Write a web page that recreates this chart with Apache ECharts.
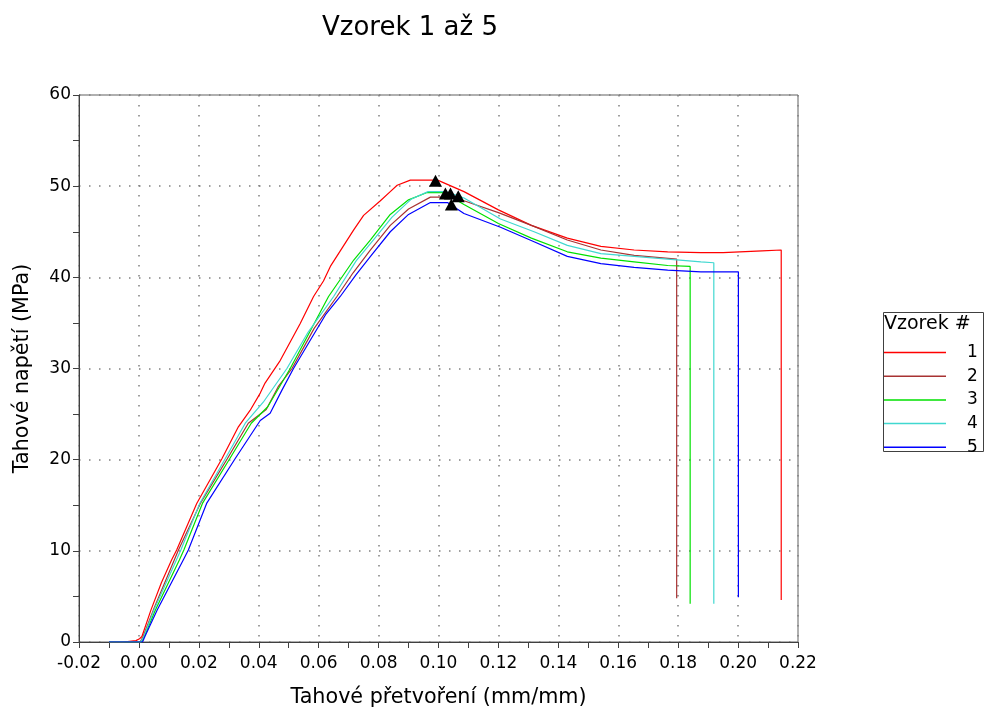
<!DOCTYPE html>
<html>
<head>
<meta charset="utf-8">
<script src="https://cdn.jsdelivr.net/npm/echarts@6/dist/echarts.min.js"></script>
<style>
  html, body { margin: 0; padding: 0; background: #fff; }
  #main { width: 984px; height: 711px; }
</style>
</head>
<body>
<div id="main"></div>
<script>
// strain (mm/mm), stress (MPa)
var names = ['1', '2', '3', '4', '5'];
var colors = ['#ff0000', '#a83232', '#00e000', '#40d8d0', '#0000ff'];

var s1 = [[-0.01,0],[-0.0052,0],[-0.0052,0.15],[-0.001,0.15],[-0.001,0.35],[0.0002,0.35],[0.001,0.6],[0.004,3.5],[0.0075,6.5],
  [0.0109,9.0],[0.0126,10.1],[0.0193,15.2],[0.0277,20.1],[0.0332,23.6],[0.0371,25.4],[0.0405,27.3],[0.0421,28.4],[0.0472,30.9],
  [0.0538,34.9],[0.0583,37.9],[0.0616,39.6],[0.0639,41.2],[0.0678,43.2],[0.0717,45.2],[0.075,46.8],[0.0806,48.4],[0.0839,49.4],
  [0.0862,50.1],[0.0906,50.66],[0.0997,50.66],[0.1085,49.4],[0.12,47.4],[0.131,45.7],[0.143,44.3],[0.1542,43.4],[0.1653,43.0],
  [0.1765,42.8],[0.1876,42.7],[0.195,42.7],[0.195,42.9],[0.208,42.9],[0.208,43.0],[0.2144,43.0],[0.2144,4.6]];

var s2 = [[-0.01,0],[0.0004,0],[0.0014,0.6],[0.0048,3.5],[0.0118,9.0],[0.0132,10.1],[0.0205,15.2],[0.0295,20.1],[0.0365,24.0],
  [0.0425,25.5],[0.0465,28.0],[0.0511,30.0],[0.0585,34.4],[0.0661,37.9],[0.0715,40.5],[0.0773,43.0],[0.0839,45.7],[0.09,47.5],
  [0.0973,48.8],[0.103,48.8],[0.1085,48.4],[0.12,47.1],[0.131,45.7],[0.143,44.1],[0.1542,43.0],[0.1653,42.4],[0.1795,42.0],[0.1795,4.8]];

var s3 = [[-0.01,0],[0.0008,0],[0.0018,0.6],[0.0055,3.5],[0.0135,9.0],[0.015,10.1],[0.0212,15.2],[0.0303,20.1],[0.0375,24.0],
  [0.043,25.8],[0.0505,30.0],[0.057,34.0],[0.0633,37.9],[0.0717,41.9],[0.0773,44.1],[0.0839,46.9],[0.09,48.5],[0.0962,49.3],
  [0.1018,49.3],[0.1085,48.0],[0.12,45.9],[0.131,44.3],[0.143,42.8],[0.1542,42.1],[0.1653,41.7],[0.1765,41.3],[0.184,41.2],[0.184,4.2]];

var s4 = [[-0.01,0],[0.0006,0],[0.0016,0.6],[0.005,3.5],[0.0125,9.0],[0.014,10.1],[0.0203,15.2],[0.0288,20.1],[0.0355,24.0],
  [0.0415,26.3],[0.0494,30.0],[0.0565,34.0],[0.065,37.9],[0.0725,41.8],[0.0785,44.2],[0.0845,46.6],[0.091,48.6],[0.0965,49.4],
  [0.1025,49.4],[0.1085,48.7],[0.1207,46.4],[0.1319,45.0],[0.143,43.5],[0.1542,42.6],[0.1653,42.3],[0.1765,42.0],[0.1876,41.7],
  [0.1919,41.6],[0.1919,4.2]];

var s5 = [[-0.01,0],[0.0012,0],[0.002,0.6],[0.0061,3.5],[0.0148,9.0],[0.0165,10.1],[0.0226,15.2],[0.0321,20.1],[0.0405,24.3],
  [0.0438,25.1],[0.0477,27.6],[0.0516,30.0],[0.0572,33.1],[0.0625,36.0],[0.0672,37.9],[0.0725,40.3],[0.0773,42.3],[0.0839,45.0],
  [0.09,46.9],[0.0973,48.2],[0.103,48.2],[0.1085,47.0],[0.1207,45.5],[0.1319,43.9],[0.143,42.3],[0.1542,41.5],[0.1653,41.1],
  [0.1765,40.8],[0.1876,40.6],[0.2001,40.6],[0.2001,4.9]];

// max stress markers
var peaks = [[0.099,50.6],[0.1066,48.9],[0.1023,49.2],[0.104,49.2],[0.1043,48.0]];

var curves = [s1, s2, s3, s4, s5];
var font = 'DejaVu Sans';

var chart = echarts.init(document.getElementById('main'));

var series = curves.map(function (d, i) {
  return {
    name: names[i],
    type: 'line',
    data: d,
    symbol: 'none',
    lineStyle: { color: colors[i], width: 1.2 },
    itemStyle: { color: colors[i] },
    z: 2 + i
  };
});
series.push({
  name: 'max',
  type: 'scatter',
  data: peaks,
  symbol: 'triangle',
  symbolSize: [13, 12],
  itemStyle: { color: '#000', opacity: 1 },
  z: 10
});

var option = {
  animation: false,
  textStyle: { fontFamily: font },
  title: {
    text: 'Vzorek 1 až 5',
    left: 322,
    top: 15,
    padding: 0,
    textStyle: { fontFamily: font, fontSize: 26, fontWeight: 'normal', color: '#000' }
  },
  grid: {
    left: 79, right: 186, top: 95, bottom: 69,
    outerBoundsMode: 'none',
    show: true, borderColor: '#606060', borderWidth: 1
  },
  legend: {
    data: names,
    orient: 'vertical',
    left: 884,
    top: 344,
    padding: 0,
    icon: 'rect',
    itemWidth: 62,
    itemHeight: 1.5,
    itemGap: 6.7,
    textStyle: { fontFamily: font, fontSize: 17, color: '#000', padding: [0, 0, 0, 16], lineHeight: 14 }
  },
  graphic: [
    { type: 'rect', left: 881, top: 310, shape: { width: 100, height: 139 },
      style: { fill: 'none', stroke: '#404040', lineWidth: 1 } },
    { type: 'text', left: 884, top: 315,
      style: { text: 'Vzorek #', font: '19px "DejaVu Sans"', fill: '#000' } }
  ],
  xAxis: {
    type: 'value',
    min: -0.02, max: 0.22, interval: 0.02,
    name: 'Tahové přetvoření (mm/mm)',
    nameLocation: 'middle',
    nameGap: 45,
    nameTextStyle: { fontFamily: font, fontSize: 20.7, color: '#000' },
    axisLine: { onZero: false, lineStyle: { color: '#404040', width: 1 } },
    axisTick: { show: true, length: 6, lineStyle: { color: '#404040' } },
    minorTick: { show: true, splitNumber: 2, length: 6, lineStyle: { color: '#404040' } },
    axisLabel: { margin: 13, fontSize: 17, color: '#000',
      formatter: function (v) { return v.toFixed(2); } },
    splitLine: { show: true, lineStyle: { color: '#808080', width: 1.5, type: [1.5, 8.5] } }
  },
  yAxis: {
    type: 'value',
    min: 0, max: 60, interval: 10,
    name: 'Tahové napětí (MPa)',
    nameLocation: 'middle',
    nameGap: 46,
    nameTextStyle: { fontFamily: font, fontSize: 20.7, color: '#000' },
    axisLine: { show: true, onZero: false, lineStyle: { color: '#404040', width: 1 } },
    axisTick: { show: true, length: 6, lineStyle: { color: '#404040' } },
    minorTick: { show: true, splitNumber: 2, length: 6, lineStyle: { color: '#404040' } },
    axisLabel: { margin: 8, fontSize: 17, color: '#000' },
    splitLine: { show: true, lineStyle: { color: '#808080', width: 1.5, type: [1.5, 8.5] } }
  },
  series: series
};

chart.setOption(option);
</script>
</body>
</html>
